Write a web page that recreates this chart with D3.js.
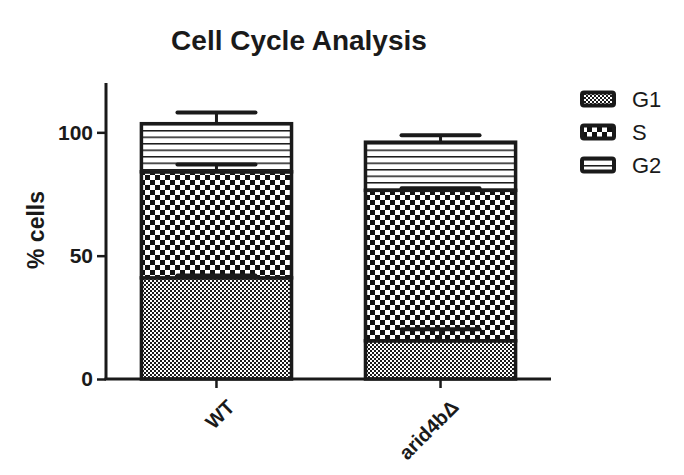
<!DOCTYPE html>
<html>
<head>
<meta charset="utf-8">
<script src="https://cdn.jsdelivr.net/npm/d3@7"></script>
<style>
  body { margin: 0; background: #fff; }
  text { font-family: "Liberation Sans", Arial, sans-serif; fill: #1a1a1a; }
</style>
</head>
<body>
<div id="chart"></div>
<script>
// data
var groups = ["WT", "arid4b\u0394"];
var phases = ["G1", "S", "G2"];
var g1 = [41, 15.5];
var sPhase = [43, 61];
var g2 = [19.5, 19.5];
var g1Err = [1, 4.7];
var sErr = [3, 0.8];
var g2Err = [4.5, 2.8];
var yTicks = [0, 50, 100];

var W = 684, H = 475;
var svg = d3.select("#chart").append("svg")
  .attr("width", W).attr("height", H);

// fill patterns
var defs = svg.append("defs");
var p1 = defs.append("pattern").attr("id", "pG1")
  .attr("patternUnits", "userSpaceOnUse").attr("width", 4).attr("height", 4);
p1.append("rect").attr("width", 4).attr("height", 4).attr("fill", "#fff");
p1.append("rect").attr("width", 2).attr("height", 2).attr("fill", "#1a1a1a");
p1.append("rect").attr("x", 2).attr("y", 2).attr("width", 2).attr("height", 2).attr("fill", "#1a1a1a");

var p2 = defs.append("pattern").attr("id", "pS")
  .attr("patternUnits", "userSpaceOnUse").attr("width", 10).attr("height", 10);
p2.append("rect").attr("width", 10).attr("height", 10).attr("fill", "#fff");
p2.append("rect").attr("width", 5).attr("height", 5).attr("fill", "#111");
p2.append("rect").attr("x", 5).attr("y", 5).attr("width", 5).attr("height", 5).attr("fill", "#111");

var p3 = defs.append("pattern").attr("id", "pG2")
  .attr("patternUnits", "userSpaceOnUse").attr("width", 8).attr("height", 6.5);
p3.append("rect").attr("width", 8).attr("height", 6.5).attr("fill", "#fff");
p3.append("rect").attr("y", 0).attr("width", 8).attr("height", 1.5).attr("fill", "#1a1a1a");

var fills = {G1: "url(#pG1)", S: "url(#pS)", G2: "url(#pG2)"};

var x = d3.scaleBand().domain(groups).range([106, 551])
  .paddingInner(0.33).paddingOuter(0.158);
var y = d3.scaleLinear().domain([0, 120]).range([379, 83]);

var rows = groups.map(function(g, i) {
  return {group: g, G1: g1[i], S: sPhase[i], G2: g2[i],
          errs: {G1: g1Err[i], S: sErr[i], G2: g2Err[i]}};
});
var stacked = d3.stack().keys(phases)(rows);

// title
svg.append("text").attr("x", 299).attr("y", 50)
  .attr("text-anchor", "middle")
  .style("font-size", "28px").style("font-weight", "bold")
  .text("Cell Cycle Analysis");

// bars
var layer = svg.selectAll(".layer").data(stacked).enter()
  .append("g").attr("class", "layer");
layer.selectAll("rect").data(function(d) { return d.map(function(v) { return {key: d.key, v: v}; }); })
  .enter().append("rect")
  .attr("x", function(d) { return x(d.v.data.group); })
  .attr("y", function(d) { return y(d.v[1]); })
  .attr("width", x.bandwidth())
  .attr("height", function(d) { return y(d.v[0]) - y(d.v[1]); })
  .attr("fill", function(d) { return fills[d.key]; })
  .attr("stroke", "#1a1a1a").attr("stroke-width", 3.5);

// error bars (upward only)
var capW = 78;
stacked.forEach(function(s) {
  s.forEach(function(v) {
    var cx = x(v.data.group) + x.bandwidth() / 2;
    var top = v[1] + v.data.errs[s.key];
    svg.append("line")
      .attr("x1", cx).attr("x2", cx)
      .attr("y1", y(v[1])).attr("y2", y(top))
      .attr("stroke", "#1a1a1a").attr("stroke-width", 3);
    svg.append("line")
      .attr("x1", cx - capW / 2).attr("x2", cx + capW / 2)
      .attr("y1", y(top)).attr("y2", y(top))
      .attr("stroke", "#1a1a1a").attr("stroke-width", 4)
      .attr("stroke-linecap", "round");
  });
});

// y axis
var yAxis = svg.append("g").attr("transform", "translate(106,0)")
  .call(d3.axisLeft(y).tickValues(yTicks).tickSize(9).tickPadding(4));
yAxis.select(".domain").attr("d", "M0," + y(120) + "V" + y(0))
  .attr("stroke", "#1a1a1a").attr("stroke-width", 3);
yAxis.selectAll(".tick line").attr("stroke", "#1a1a1a").attr("stroke-width", 2.5);
yAxis.selectAll(".tick text").style("font-size", "21px").style("font-weight", "bold")
  .attr("fill", "#1a1a1a");

// x axis
var xAxis = svg.append("g").attr("transform", "translate(0,379)")
  .call(d3.axisBottom(x).tickSize(9).tickPadding(0));
xAxis.select(".domain").attr("d", "M104.5,0H551")
  .attr("stroke", "#1a1a1a").attr("stroke-width", 3);
xAxis.selectAll(".tick line").attr("stroke", "#1a1a1a").attr("stroke-width", 2.5);
xAxis.selectAll(".tick text")
  .style("font-size", "20px").style("font-weight", "bold").attr("fill", "#1a1a1a")
  .attr("text-anchor", "end")
  .attr("dy", "0.35em")
  .attr("transform", "translate(8,18) rotate(-45)");

// y label
svg.append("text")
  .attr("transform", "translate(44,230) rotate(-90)")
  .attr("text-anchor", "middle")
  .style("font-size", "23px").style("font-weight", "bold")
  .text("% cells");

// legend
var legend = svg.selectAll(".legend").data(phases).enter()
  .append("g").attr("class", "legend")
  .attr("transform", function(d, i) { return "translate(582," + (99 + i * 33) + ")"; });
legend.append("rect")
  .attr("x", 0).attr("y", -6.5).attr("width", 32).attr("height", 13)
  .attr("rx", 2)
  .attr("fill", function(d) { return fills[d]; })
  .attr("stroke", "#1a1a1a").attr("stroke-width", 4);
legend.append("text")
  .attr("x", 50).attr("y", 0).attr("dy", "0.35em")
  .style("font-size", "22px")
  .text(function(d) { return d; });
</script>
</body>
</html>
